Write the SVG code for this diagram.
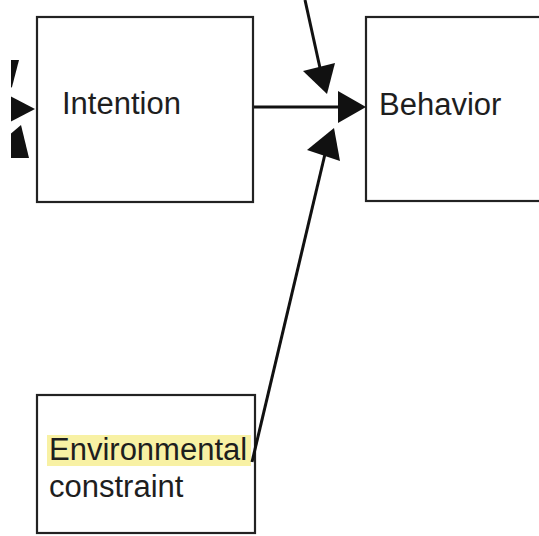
<svg xmlns="http://www.w3.org/2000/svg" width="539" height="536" viewBox="0 0 539 536">
<style>
.box{fill:#fff;stroke:#222;stroke-width:2.2}
.lbl{font-family:"Liberation Sans",Arial,sans-serif;font-size:31px;fill:#1e1e1e}
.conn{stroke:#111;stroke-width:3;fill:none}
.head{fill:#111;stroke:none}
</style>
<defs><clipPath id="lc"><rect x="11" y="0" width="60" height="536"/></clipPath></defs>
<rect width="539" height="536" fill="#fff"/>
<g id="intention"><rect class="box" x="37" y="17" width="216" height="185"/><text class="lbl" x="62" y="114">Intention</text></g>
<g id="behavior"><rect class="box" x="366" y="17" width="180" height="184"/><text class="lbl" x="379" y="115">Behavior</text></g>
<g id="environmental"><rect class="box" x="37" y="395" width="218" height="138"/><rect x="47" y="435" width="204" height="31" fill="#f8f1a4"/><text class="lbl" x="49" y="460">Environmental</text><text class="lbl" x="49" y="497">constraint</text></g>
<g id="connectors">
<line class="conn" x1="305" y1="0" x2="320" y2="68"/>
<polygon class="head" points="303,71 335,63 327,94"/>
<line class="conn" x1="254" y1="107" x2="340" y2="107"/>
<polygon class="head" points="338,91 366,107 338,123"/>
<line class="conn" x1="252" y1="462" x2="325" y2="154"/>
<polygon class="head" points="307,150 340,161 334,128"/>
<g clip-path="url(#lc)">
<polygon class="head" points="8,60 19,60 12,87 8,90"/>
<polygon class="head" points="8,95 35,109 8,123"/>
<polygon class="head" points="21,125 29,158 8,158 8,136"/>
</g>
</g>
</svg>
